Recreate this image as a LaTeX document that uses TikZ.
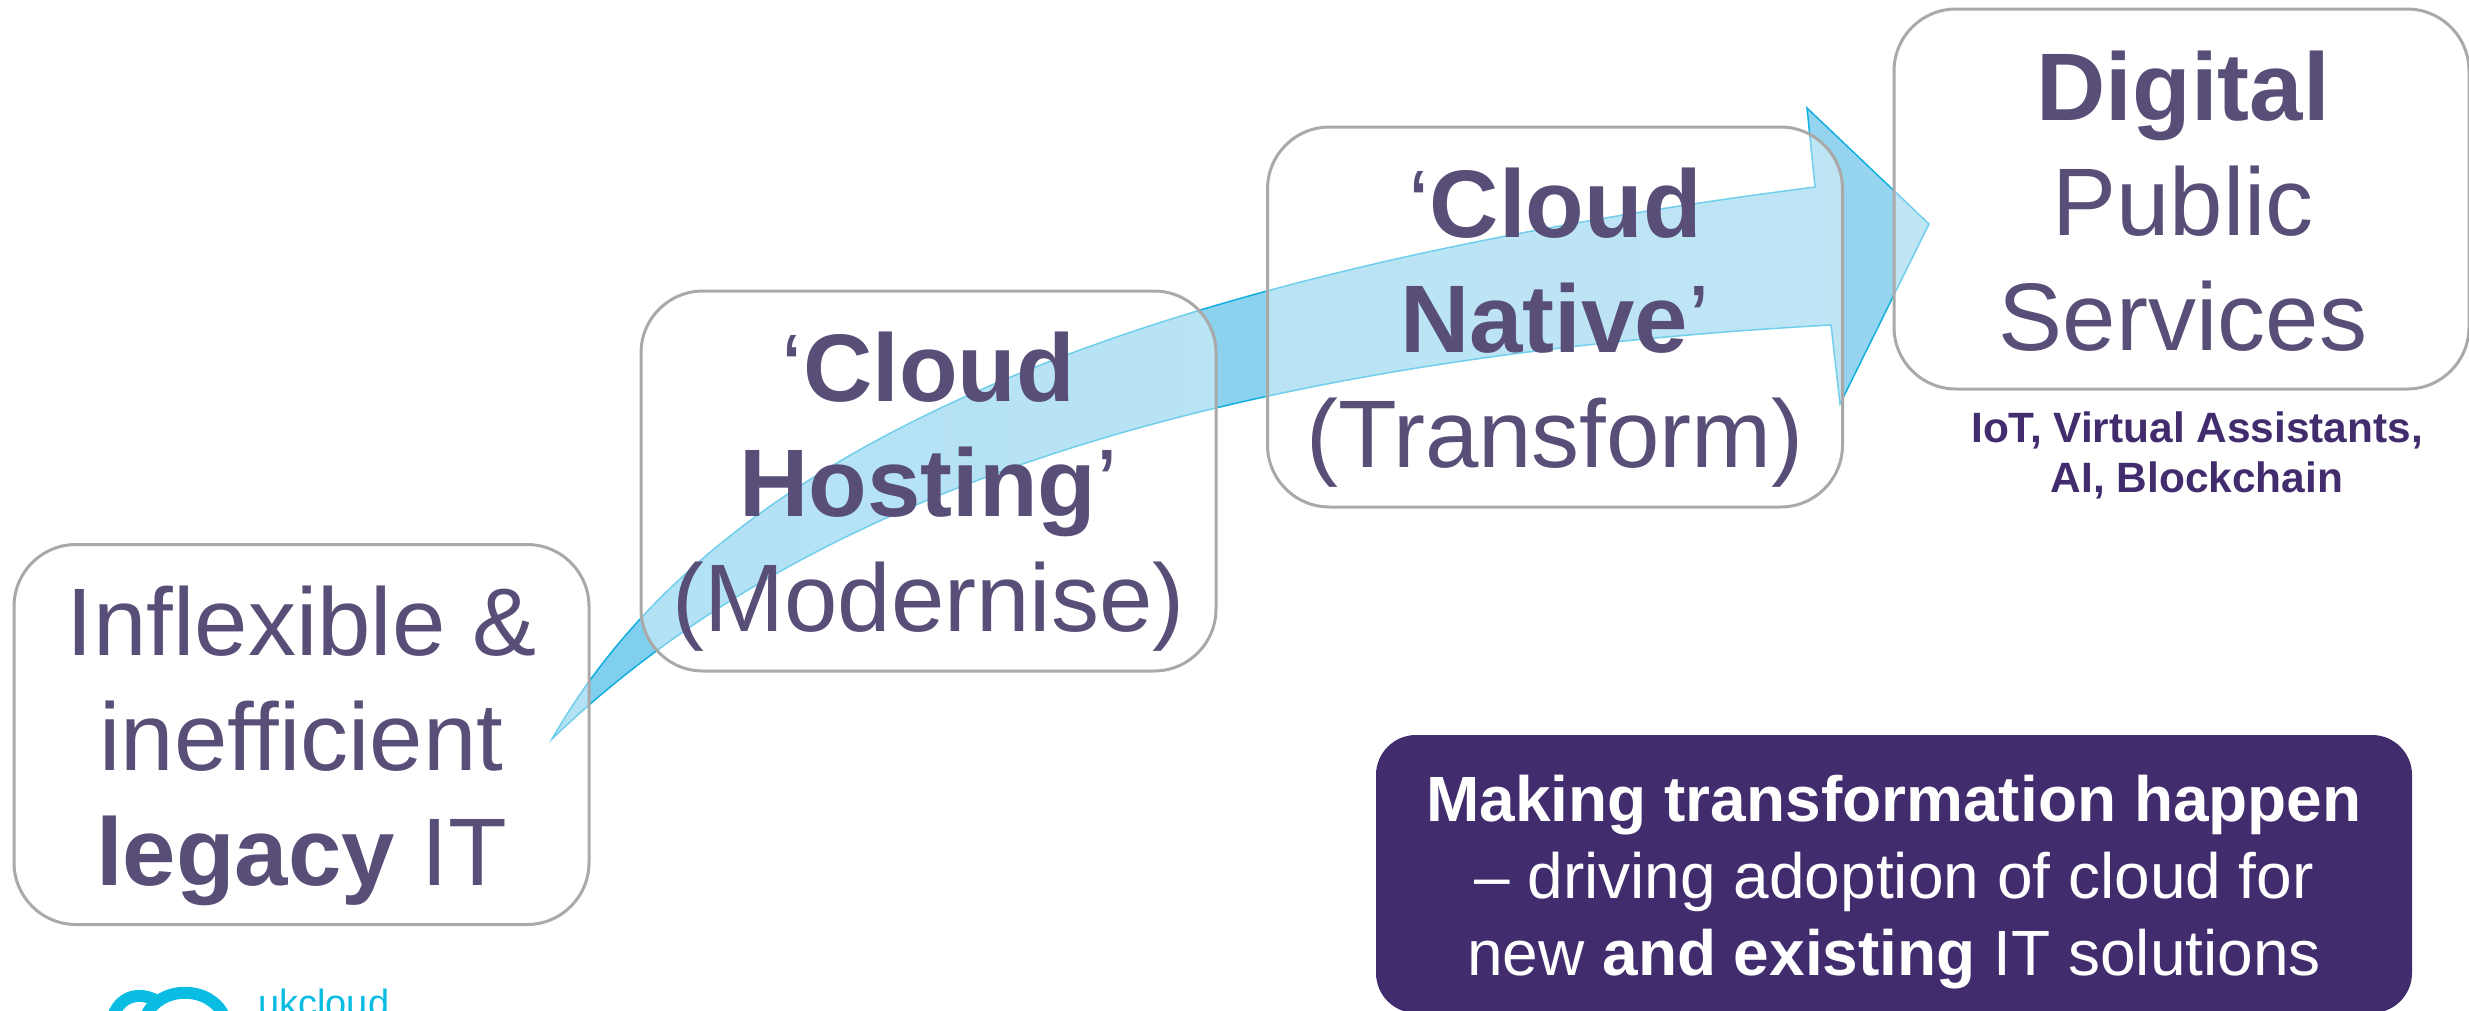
\documentclass[tikz,border=0pt]{standalone}
\usepackage{fontspec}
\setmainfont{Liberation Sans}
\definecolor{boxtext}{HTML}{584E78}
\definecolor{deeppurple}{HTML}{412C6E}
\definecolor{boxline}{HTML}{A9A9A9}
\definecolor{arrowblue}{HTML}{00A9DC}
\definecolor{arrowtail}{HTML}{009FDD}
\definecolor{arrowhead}{HTML}{2FABDF}
\definecolor{logoblue}{HTML}{08BCE2}
\tikzset{
  x=1pt,y=-1pt,
  stage/.style={draw=boxline,line width=3pt,fill=white,fill opacity=0.4,draw opacity=1,text opacity=1,rounded corners=62pt,
    minimum width=575pt,minimum height=380pt,align=center,inner sep=0pt},
  stagetext/.style={align=center,text=boxtext,inner sep=0pt,font=\fontsize{96}{115}\selectfont},
  flow/.style={left color=arrowtail,right color=arrowhead,fill opacity=0.5,draw=arrowblue,line width=1.5pt,draw opacity=0.9},
  note/.style={align=center,text=deeppurple,font=\bfseries\fontsize{42.4}{50}\selectfont,inner sep=0pt},
  banner/.style={fill=deeppurple,rounded corners=40pt,inner sep=0pt,
    minimum width=1036pt,minimum height=278pt},
  bannertext/.style={text=white,align=center,inner sep=0pt,font=\fontsize{64}{77}\selectfont},
  logotext/.style={text=logoblue,inner sep=0pt,anchor=base west,font=\fontsize{38}{38}\selectfont}
}
\begin{document}
\begin{tikzpicture}
\useasboundingbox (0,0) rectangle (2469,1010);
\path[flow] (552,739)
  .. controls (700,480) and (1050,285) .. (1815,187)
  -- (1807,108) -- (1929,224) -- (1840,404) -- (1831,325)
  .. controls (1200,360) and (800,500) .. (552,739) -- cycle;
\node[stage] (legacy) at (301.5,734.5) {};
\node[stage] (hosting) at (928.5,481) {};
\node[stage] (native) at (1555,317) {};
\node[stage] (digital) at (2181.5,199) {};
\node[stagetext] (legacytext) at (301.5,745.5) {Inflexible \&\\inefficient\\\textbf{legacy} IT};
\node[stagetext] (hostingtext) at (928.5,492) {‘\textbf{Cloud}\\\textbf{Hosting}’\\(Modernise)};
\node[stagetext] (nativetext) at (1555,328) {‘\textbf{Cloud}\\\textbf{Native}’\\(Transform)};
\node[stagetext] (digitaltext) at (2183,201) {\textbf{Digital}\\Public\\Services};
\node[note] (tech) at (2197,455) {IoT, Virtual Assistants,\\AI, Blockchain};
\begin{scope}
\clip (0,0) rectangle (2469,1010);
\node[banner] (making) at (1894,874) {};
\end{scope}
\node[bannertext] (makingtext) at (1894,882) {\textbf{Making transformation happen}\\– driving adoption of cloud for\\new \textbf{and existing} IT solutions};
\begin{scope}
\clip (0,0) rectangle (2469,1010);
\draw[logoblue,line width=12pt] (113,1016) .. controls (122,992) and (145,992) .. (160,1003);
\draw[logoblue,line width=12pt] (146,1016) .. controls (160,985) and (210,985) .. (224,1016);
\end{scope}
\node[logotext] (logo) at (258,1016) {ukcloud};
\end{tikzpicture}
\end{document}
